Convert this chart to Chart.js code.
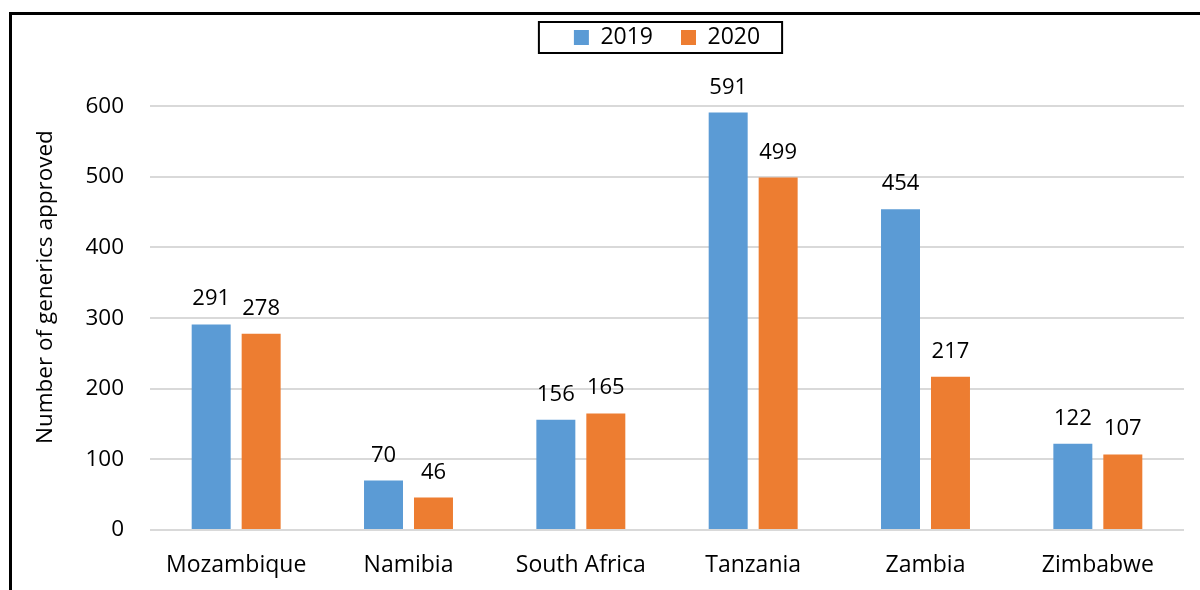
<!DOCTYPE html>
<html>
<head>
<meta charset="utf-8">
<script src="https://cdn.jsdelivr.net/npm/chart.js@4.4.1/dist/chart.umd.min.js"></script>
<style>
  html, body { margin: 0; padding: 0; background: #fff; }
  #wrap { width: 1200px; height: 590px; }
</style>
</head>
<body>
<div id="wrap"><canvas id="chart" width="1200" height="590"></canvas></div>
<script>
const countries = ['Mozambique', 'Namibia', 'South Africa', 'Tanzania', 'Zambia', 'Zimbabwe'];
const approved2019 = [291, 70, 156, 591, 454, 122];
const approved2020 = [278, 46, 165, 499, 217, 107];
const yTicks = [0, 100, 200, 300, 400, 500, 600];
const yTitle = 'Number of generics approved';

const FONT = '"Open Sans", "Noto Sans", sans-serif';

// outer frame, legend box and the y axis title
const framePlugin = {
    id: 'frame',
    beforeDraw(chart) {
        const ctx = chart.ctx;
        ctx.save();
        ctx.fillStyle = '#fff';
        ctx.fillRect(0, 0, chart.width, chart.height);
        ctx.strokeStyle = '#000';
        ctx.lineWidth = 3;
        ctx.strokeRect(10.5, 13.5, chart.width + 20, chart.height + 20);
        ctx.restore();
    },
    afterDraw(chart) {
        const ctx = chart.ctx;
        ctx.save();
        // y title, Excel places it a bit above the plot centre
        ctx.font = '22.5px ' + FONT;
        ctx.fillStyle = '#000';
        ctx.textAlign = 'center';
        ctx.textBaseline = 'middle';
        ctx.translate(46, chart.chartArea.top + (chart.chartArea.bottom - chart.chartArea.top) / 2 - 31);
        ctx.rotate(-Math.PI / 2);
        ctx.fillText(yTitle, 0, 0);
        ctx.restore();

        const lg = chart.legend;
        if (!lg || !lg.legendHitBoxes.length) return;
        const boxes = lg.legendHitBoxes;
        const first = boxes[0], last = boxes[boxes.length - 1];
        ctx.save();
        ctx.strokeStyle = '#000';
        ctx.lineWidth = 2;
        const left = first.left - 35;
        const right = last.left + last.width + 22;
        ctx.strokeRect(left, first.top - 4, right - left, first.height + 8);
        ctx.restore();
    }
};

// value labels above the bars
const labelPlugin = {
    id: 'barLabels',
    afterDatasetsDraw(chart) {
        const ctx = chart.ctx;
        ctx.save();
        ctx.font = '22px ' + FONT;
        ctx.fillStyle = '#000';
        ctx.textAlign = 'center';
        ctx.textBaseline = 'alphabetic';
        chart.data.datasets.forEach((ds, i) => {
            chart.getDatasetMeta(i).data.forEach((bar, j) => {
                ctx.fillText(ds.data[j], bar.x, bar.y - 19);
            });
        });
        ctx.restore();
    }
};

new Chart(document.getElementById('chart'), {
    type: 'bar',
    data: {
        labels: countries,
        datasets: [
            { label: '2019', data: approved2019, backgroundColor: '#5B9BD5', categoryPercentage: 0.58, barPercentage: 0.78 },
            { label: '2020', data: approved2020, backgroundColor: '#ED7D31', categoryPercentage: 0.58, barPercentage: 0.78 }
        ]
    },
    options: {
        responsive: false,
        animation: false,
        layout: { padding: { left: 0, right: 16, top: -2, bottom: 0 } },
        plugins: {
            legend: {
                position: 'top',
                fullSize: false,
                labels: {
                    font: { family: FONT, size: 23 },
                    color: '#000',
                    boxWidth: 15,
                    boxHeight: 15,
                    padding: 28
                }
            },
            // empty title used as a spacer between legend and plot
            title: {
                display: true,
                text: '',
                weight: 500,
                font: { size: 1 },
                padding: { top: 46, bottom: 0 }
            },
            tooltip: { enabled: false }
        },
        scales: {
            x: {
                grid: { display: false },
                border: { display: false },
                ticks: { font: { family: FONT, size: 23 }, color: '#000', padding: 14 },
                afterFit(scale) { scale.height = 60; }
            },
            y: {
                min: 0,
                max: 600,
                afterBuildTicks(scale) { scale.ticks = yTicks.map(v => ({ value: v })); },
                grid: { color: '#D9D9D9', lineWidth: 2, drawTicks: false },
                border: { display: false },
                ticks: { font: { family: FONT, size: 22.5 }, color: '#000', padding: 26 },
                afterFit(scale) { scale.width = 150; }
            }
        }
    },
    plugins: [framePlugin, labelPlugin]
});
</script>
</body>
</html>
